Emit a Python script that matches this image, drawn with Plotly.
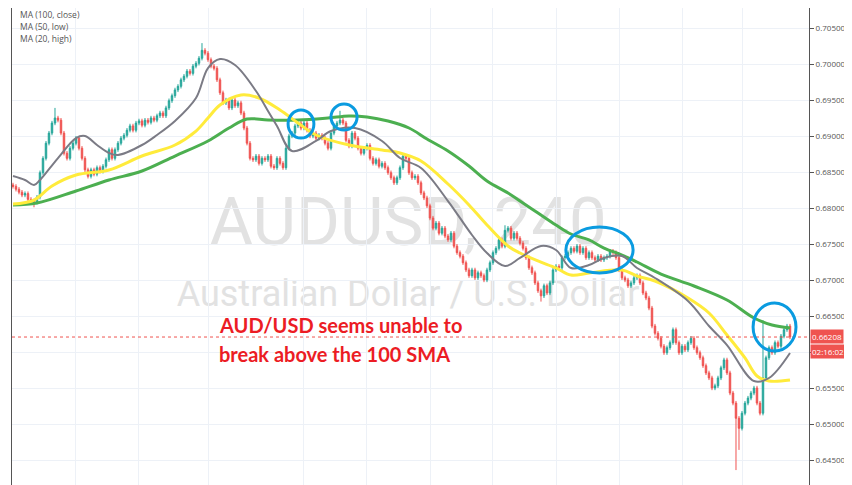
import plotly.graph_objects as go

# ---------------- data ----------------
CLOSES = [
    0.6830, 0.6826, 0.6822, 0.6818, 0.6820, 0.6812, 0.6810, 0.6808, 0.6815, 0.6849,
    0.6869, 0.6890, 0.6904, 0.6918, 0.6925, 0.6922, 0.6904, 0.6876, 0.6869, 0.6883,
    0.6890, 0.6897, 0.6883, 0.6869, 0.6853, 0.6844, 0.6853, 0.6847, 0.6856, 0.6851,
    0.6858, 0.6867, 0.6881, 0.6869, 0.6881, 0.6890, 0.6897, 0.6901, 0.6908, 0.6914,
    0.6908, 0.6918, 0.6921, 0.6915, 0.6922, 0.6919, 0.6925, 0.6922, 0.6928, 0.6932,
    0.6928, 0.6939, 0.6949, 0.6956, 0.6964, 0.6969, 0.6978, 0.6983, 0.6990, 0.6987,
    0.6997, 0.7001, 0.7008, 0.7019, 0.7015, 0.7006, 0.6997, 0.6994, 0.6978, 0.6960,
    0.6946, 0.6950, 0.6939, 0.6950, 0.6942, 0.6946, 0.6932, 0.6911, 0.6890, 0.6869,
    0.6867, 0.6872, 0.6862, 0.6869, 0.6867, 0.6872, 0.6858, 0.6856, 0.6869, 0.6862,
    0.6856, 0.6883, 0.6900, 0.6904, 0.6914, 0.6918, 0.6911, 0.6918, 0.6908, 0.6900,
    0.6904, 0.6897, 0.6901, 0.6897, 0.6890, 0.6883, 0.6904, 0.6914, 0.6918, 0.6922,
    0.6918, 0.6894, 0.6886, 0.6904, 0.6897, 0.6883, 0.6876, 0.6883, 0.6887, 0.6869,
    0.6862, 0.6867, 0.6858, 0.6862, 0.6856, 0.6849, 0.6842, 0.6835, 0.6842, 0.6856,
    0.6872, 0.6869, 0.6849, 0.6842, 0.6844, 0.6835, 0.6821, 0.6814, 0.6803, 0.6786,
    0.6772, 0.6779, 0.6765, 0.6772, 0.6761, 0.6756, 0.6765, 0.6747, 0.6738, 0.6733,
    0.6724, 0.6714, 0.6706, 0.6714, 0.6703, 0.6710, 0.6706, 0.6700, 0.6714, 0.6724,
    0.6738, 0.6744, 0.6756, 0.6747, 0.6769, 0.6772, 0.6758, 0.6765, 0.6758, 0.6751,
    0.6744, 0.6731, 0.6717, 0.6710, 0.6696, 0.6685, 0.6678, 0.6692, 0.6682, 0.6696,
    0.6714, 0.6719, 0.6717, 0.6731, 0.6733, 0.6738, 0.6744, 0.6740, 0.6747, 0.6738,
    0.6744, 0.6731, 0.6738, 0.6731, 0.6728, 0.6733, 0.6728, 0.6731, 0.6733, 0.6740,
    0.6738, 0.6731, 0.6714, 0.6703, 0.6700, 0.6692, 0.6696, 0.6703, 0.6706, 0.6696,
    0.6682, 0.6675, 0.6661, 0.6636, 0.6626, 0.6619, 0.6608, 0.6599, 0.6606, 0.6613,
    0.6631, 0.6613, 0.6599, 0.6608, 0.6603, 0.6613, 0.6619, 0.6606, 0.6599, 0.6592,
    0.6581, 0.6571, 0.6564, 0.6550, 0.6553, 0.6564, 0.6578, 0.6589, 0.6571, 0.6543,
    0.6529, 0.6508, 0.6494, 0.6515, 0.6529, 0.6536, 0.6543, 0.6550, 0.6529, 0.6515,
    0.6564, 0.6592, 0.6606, 0.6599, 0.6613, 0.6608, 0.6622, 0.6631, 0.6636, 0.66208,
]
FIRST_OPEN = 0.6832
WICK = 0.0003
HIGH_OVERRIDE = {14: 0.6939, 63: 0.7029, 109: 0.6935, 164: 0.6776, 250: 0.6644}
LOW_OVERRIDE = {7: 0.6801, 176: 0.6670, 241: 0.6436, 242: 0.6464}

MA100_IDX = [0, 8, 21, 32, 43, 54, 65, 72, 78, 85, 95, 105, 112, 118, 125, 132, 138, 145,
             152, 158, 165, 169, 175, 181, 186, 192, 197, 203, 208, 216, 227, 238, 247, 253, 259]
MA100_VAL = [0.68042, 0.68069, 0.68236, 0.68389, 0.68514, 0.68722, 0.68931, 0.69111, 0.69236,
             0.69222, 0.69222, 0.69250, 0.69278, 0.69264, 0.69208, 0.69111, 0.68958, 0.68792,
             0.68583, 0.68375, 0.68208, 0.68097, 0.67931, 0.67764, 0.67639, 0.67556, 0.67444,
             0.67347, 0.67250, 0.67083, 0.66917, 0.66722, 0.66472, 0.66375, 0.66333]

MA50_IDX = [0, 7, 13, 21, 32, 43, 54, 61, 65, 69, 76, 82, 89, 95, 101, 112, 123, 129, 136,
            145, 152, 158, 165, 169, 175, 181, 186, 192, 203, 208, 214, 225, 232, 238, 244,
            248, 252, 259]
MA50_VAL = [0.68056, 0.68111, 0.68306, 0.68458, 0.68528, 0.68722, 0.68875, 0.69069, 0.69250,
            0.69431, 0.69569, 0.69528, 0.69361, 0.69181, 0.69014, 0.68875, 0.68806, 0.68764,
            0.68653, 0.68333, 0.68042, 0.67764, 0.67472, 0.67375, 0.67264, 0.67167, 0.67069,
            0.67097, 0.67139, 0.67056, 0.66986, 0.66750, 0.66542, 0.66236, 0.65917, 0.65667,
            0.65597, 0.65611]

MA20_IDX = [0, 4, 7, 9, 15, 21, 24, 28, 32, 35, 43, 48, 54, 61, 65, 69, 74, 81, 85, 88, 93,
            101, 106, 114, 123, 129, 136, 145, 153, 158, 164, 169, 176, 181, 186, 192, 197,
            203, 208, 214, 225, 232, 238, 247, 252, 259]
MA20_VAL = [0.68444, 0.68389, 0.68319, 0.68389, 0.68694, 0.68972, 0.69000, 0.68875, 0.68764,
            0.68736, 0.68875, 0.69014, 0.69208, 0.69528, 0.69944, 0.70069, 0.69986, 0.69625,
            0.69347, 0.69139, 0.68792, 0.68931, 0.69069, 0.69111, 0.68931, 0.68694, 0.68556,
            0.68097, 0.67625, 0.67375, 0.67194, 0.67306, 0.67472, 0.67417, 0.67167, 0.67208,
            0.67306, 0.67333, 0.67167, 0.67028, 0.66708, 0.66361, 0.66097, 0.65597, 0.65639,
            0.65986]

LAST_PRICE = 0.66208
COUNTDOWN = "02:16:02"
Y_TICKS = [0.645, 0.650, 0.655, 0.660, 0.665, 0.670, 0.675, 0.680, 0.685, 0.690, 0.695, 0.700, 0.705]
HIDDEN_TICK = 0.660  # covered by the price label in the reference
GRID_X = [20.7, 42.0, 65.3, 96.7, 118.0, 139.3, 160.0, 181.3, 202.3, 223.3, 243.3]
LEGEND_LINES = ["MA (100, close)", "MA (50, low)", "MA (20, high)"]
WATERMARK_1 = "AUDUSD, 240"
WATERMARK_2 = "Australian Dollar / U.S. Dollar"
NOTE_1 = "AUD/USD seems unable to"
NOTE_2 = "break above the 100 SMA"

# -------------- build OHLC --------------
N = len(CLOSES)
xs = list(range(N))
opens = [FIRST_OPEN] + CLOSES[:-1]
highs, lows = [], []
for i in range(N):
    hi = max(opens[i], CLOSES[i]) + WICK
    lo = min(opens[i], CLOSES[i]) - WICK
    highs.append(HIGH_OVERRIDE.get(i, hi))
    lows.append(LOW_OVERRIDE.get(i, lo))

W, H = 852, 485
PX_L, PX_R = 4, 801

fig = go.Figure()
fig.add_trace(go.Candlestick(
    x=xs, open=opens, high=highs, low=lows, close=CLOSES,
    increasing=dict(line=dict(color="#26a69a", width=1), fillcolor="#26a69a"),
    decreasing=dict(line=dict(color="#ef5350", width=1), fillcolor="#ef5350"),
    whiskerwidth=0, showlegend=False, hoverinfo="skip",
))
fig.add_trace(go.Scatter(x=MA100_IDX, y=MA100_VAL, mode="lines",
                         line=dict(color="#4caf50", width=3, shape="spline"),
                         showlegend=False, hoverinfo="skip"))
fig.add_trace(go.Scatter(x=MA50_IDX, y=MA50_VAL, mode="lines",
                         line=dict(color="#ffeb3b", width=3, shape="spline"),
                         showlegend=False, hoverinfo="skip"))
fig.add_trace(go.Scatter(x=MA20_IDX, y=MA20_VAL, mode="lines",
                         line=dict(color="#7b7b85", width=2, shape="spline"),
                         showlegend=False, hoverinfo="skip"))

def py(p):
    return 1 - p / H

def px(p):
    return p / W

shapes = []
# watermark (below traces)
shapes.append(dict(type="rect", xref="paper", yref="paper",
                   x0=px(150), x1=px(650), y0=py(245), y1=py(172),
                   line=dict(width=0), fillcolor="rgba(0,0,0,0)", layer="below",
                   label=dict(text=WATERMARK_1, textposition="middle center",
                              font=dict(size=67, color="#e2e2e2", family="Roboto"))))
shapes.append(dict(type="rect", xref="paper", yref="paper",
                   x0=px(150), x1=px(650), y0=py(302), y1=py(264),
                   line=dict(width=0), fillcolor="rgba(0,0,0,0)", layer="below",
                   label=dict(text=WATERMARK_2, textposition="middle center",
                              font=dict(size=36, color="#e2e2e2", family="Roboto"))))
# last price dotted line
shapes.append(dict(type="line", xref="paper", yref="y", x0=px(PX_L), x1=px(PX_R),
                   y0=LAST_PRICE, y1=LAST_PRICE,
                   line=dict(color="#ef5350", width=1, dash="dot")))
# blue highlight ellipses
ELL = [(91.7, 100.3, 0.68972, 0.69361), (106.0, 114.7, 0.69083, 0.69444),
       (184.3, 206.7, 0.67097, 0.67736), (246.7, 261.0, 0.66014, 0.66681)]
for x0, x1, y0, y1 in ELL:
    shapes.append(dict(type="circle", xref="x", yref="y", x0=x0, x1=x1, y0=y0, y1=y1,
                       line=dict(color="#0a9be0", width=3), fillcolor="rgba(0,0,0,0)"))

annotations = []
for k, t in enumerate(LEGEND_LINES):
    annotations.append(dict(xref="paper", yref="paper", x=px(10), y=py(6.5 + 12 * k),
                            xanchor="left", yanchor="middle", text=t, showarrow=False,
                            font=dict(size=8.5, color="#555555", family="Open Sans")))
annotations.append(dict(xref="paper", yref="paper", x=px(209), y=py(317),
                        xanchor="left", yanchor="middle", text=NOTE_1, showarrow=False,
                        font=dict(size=20, color="#ec1c24", family="Lato", weight="bold")))
annotations.append(dict(xref="paper", yref="paper", x=px(209), y=py(346),
                        xanchor="left", yanchor="middle", text=NOTE_2, showarrow=False,
                        font=dict(size=20, color="#ec1c24", family="Lato", weight="bold")))
annotations.append(dict(xref="paper", yref="paper", x=px(802), y=py(328),
                        xanchor="left", yanchor="middle", text="%.5f" % LAST_PRICE,
                        showarrow=False, bgcolor="#ef5350", borderpad=1,
                        font=dict(size=8, color="white", family="Open Sans")))
annotations.append(dict(xref="paper", yref="paper", x=px(802), y=py(343.5),
                        xanchor="left", yanchor="middle", text=COUNTDOWN,
                        showarrow=False, bgcolor="#ef5350", borderpad=1,
                        font=dict(size=8, color="white", family="Open Sans")))

y_top = 0.68 + (200 - 0) / 7200
y_bot = 0.68 + (200 - H) / 7200
x_lo = -0.33
x_hi = x_lo + (PX_R - PX_L) / 3.0
tick_text = ["" if abs(v - HIDDEN_TICK) < 1e-9 else "%.5f" % v for v in Y_TICKS]

fig.update_layout(
    width=W, height=H, margin=dict(l=0, r=0, t=0, b=0),
    paper_bgcolor="white", plot_bgcolor="white",
    shapes=shapes, annotations=annotations,
    xaxis=dict(domain=[px(PX_L), px(PX_R)], range=[x_lo, x_hi], showticklabels=False,
               tickvals=GRID_X, ticks="", showgrid=True, gridcolor="#edf1f7", gridwidth=1,
               zeroline=False, rangeslider=dict(visible=False), fixedrange=True),
    yaxis=dict(side="right", range=[y_bot, y_top], tickvals=Y_TICKS, ticktext=tick_text,
               ticks="outside", ticklen=4, tickcolor="#555555", showline=True,
               linecolor="#555555", linewidth=1, mirror=True, showgrid=True,
               gridcolor="#edf1f7", zeroline=False,
               tickfont=dict(size=8, color="#555555", family="Open Sans")),
    hovermode=False,
)

fig.write_html("out.html")
